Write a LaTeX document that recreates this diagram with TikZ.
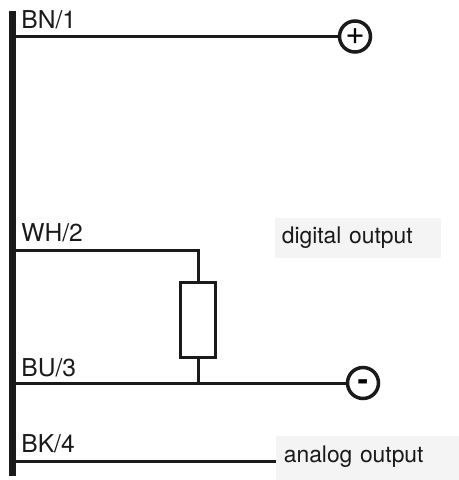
\documentclass[tikz,border=0pt]{standalone}
\usepackage{fontspec}
\setmainfont{TeX Gyre Heros}
\usepackage[dvipsnames]{xcolor}
\definecolor{boxgray}{HTML}{F4F4F4}
\definecolor{wireblack}{HTML}{1A1A1A}

\begin{document}
\begin{tikzpicture}[x=0.02cm,y=-0.02cm,-,wire/.style={draw=wireblack,line width=0.06cm},
    terminal/.style={circle,draw=wireblack,line width=0.07cm,fill=white,minimum size=0.62cm,inner sep=0pt},
    wire label/.style={anchor=base west,inner sep=0pt,text=wireblack,font=\fontsize{14pt}{16pt}\selectfont},
    output box/.style={fill=boxgray,anchor=north west,inner sep=0pt,text=wireblack,font=\fontsize{13pt}{15pt}\selectfont}]

            \useasboundingbox (0,0) rectangle (459,480);

            \coordinate (top) at (12.5,11);
            \coordinate (bottom) at (12.5,476);
            \coordinate (1) at (12.5,36.5);
            \coordinate (2) at (12.5,250);
            \coordinate (3) at (12.5,383);
            \coordinate (4) at (12.5,461);
            \coordinate (split2) at (198,250);
            \coordinate (split3) at (198,383);

            \node[terminal,font=\fontsize{19pt}{19pt}\selectfont] (plus) at (355,36.5) {+};
            \node[terminal,text height=9pt,text depth=0pt,font=\fontsize{18pt}{18pt}\selectfont\bfseries] (minus) at (363,383) {-};
            \node[draw=wireblack,line width=0.06cm,minimum width=0.71cm,minimum height=1.49cm,inner sep=0pt] (load) at (198,320) {};

            \node[output box,text depth=0.13cm,minimum width=3.32cm,minimum height=0.8cm,text width=3.32cm-0.26cm,inner xsep=0.13cm] (digital) at (275,218) {digital output};
            \node[output box,text depth=0.16cm,minimum width=3.66cm,minimum height=0.88cm,text width=3.66cm-0.3cm,inner xsep=0.15cm] (analog) at (276,436) {analog output};

            \node[wire label] (bn) at (21,29) {BN/1};
            \node[wire label] (wh) at (21,241) {WH/2};
            \node[wire label] (bu) at (21,376) {BU/3};
            \node[wire label] (bk) at (21,452) {BK/4};

            \draw[wireblack,line width=0.125cm] (top) to (bottom);

            \draw[wire] (1) to (plus);
            \draw[wire] (2) -- (split2) -- (load);
            \draw[wire] (load) -- (split3);
            \draw[wire] (3) to (minus);
            \draw[wire] (4) to (analog.west |- 4);

            ;
        \end{tikzpicture}
\end{document}
